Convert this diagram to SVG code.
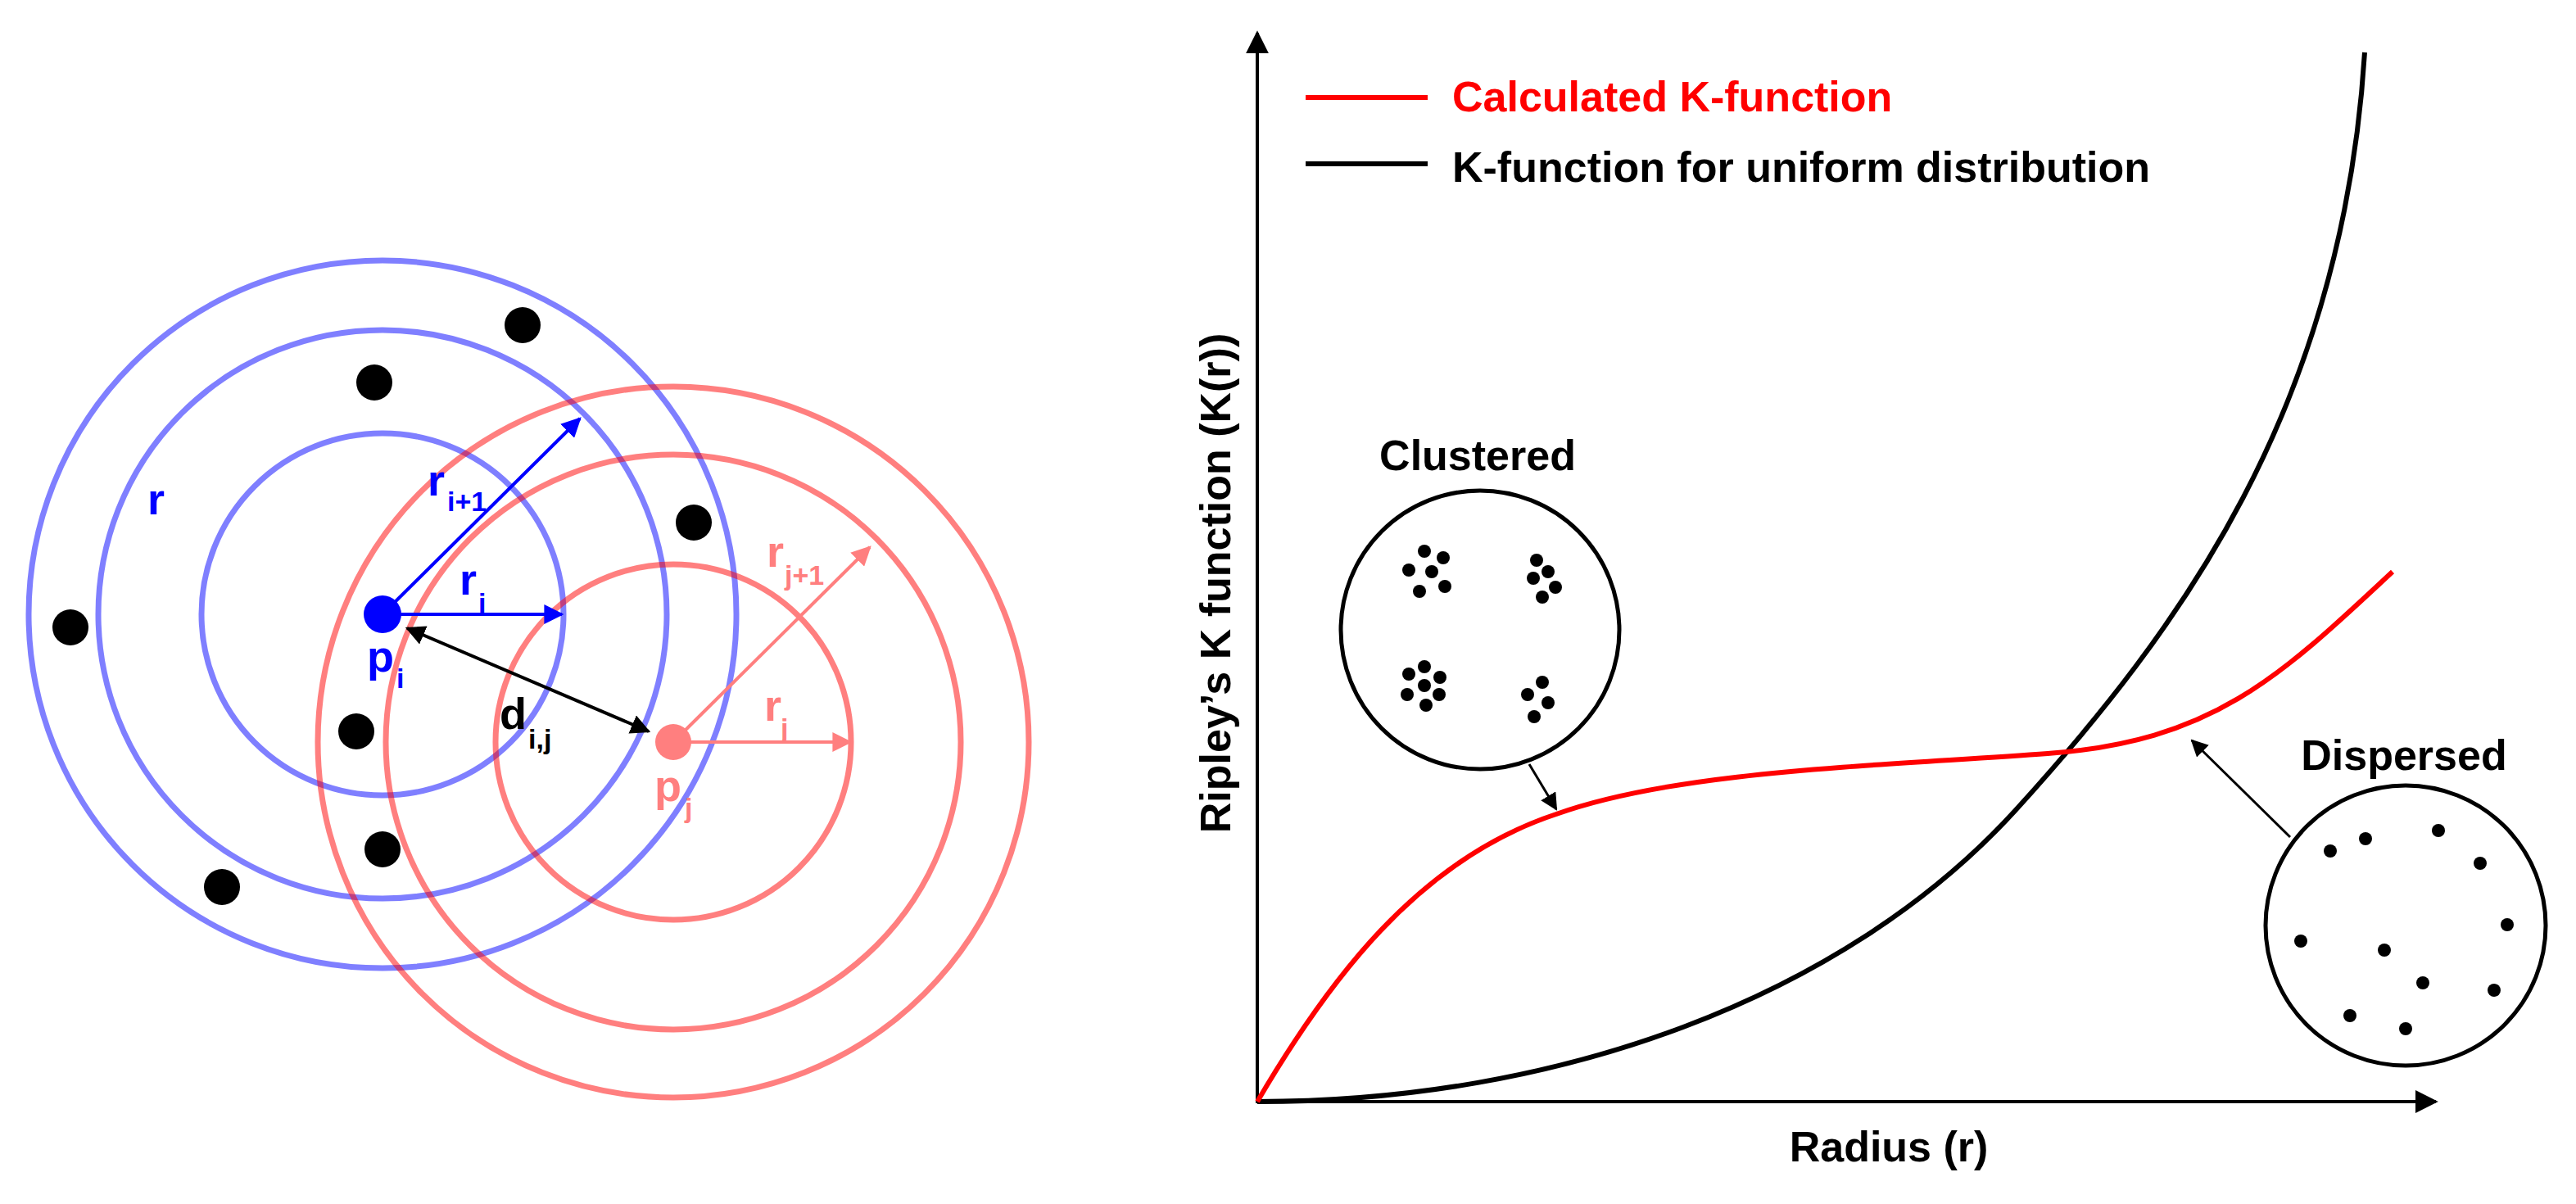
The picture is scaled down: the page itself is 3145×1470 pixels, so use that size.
<svg xmlns="http://www.w3.org/2000/svg" width="3145" height="1470" viewBox="0 0 3145 1470">
<style>
text{font-family:"Liberation Sans",Arial,sans-serif;font-weight:bold}
.bc{fill:none;stroke:#0000ff;stroke-opacity:0.5;stroke-width:7}
.rc{fill:none;stroke:#ff0000;stroke-opacity:0.5;stroke-width:7}
.dot{fill:#000}
.lb{font-size:54px}
.sb{font-size:34px}
.t{font-size:52px}
</style>
<defs>
<marker id="ab" viewBox="0 0 10 10" refX="9" refY="5" markerWidth="6" markerHeight="6" orient="auto"><path d="M0,0L10,5L0,10z" fill="#0000ff"/></marker>
<marker id="ar" viewBox="0 0 10 10" refX="9" refY="5" markerWidth="6" markerHeight="6" orient="auto"><path d="M0,0L10,5L0,10z" fill="#ff7f7f"/></marker>
<marker id="ak" viewBox="0 0 10 10" refX="9" refY="5" markerWidth="6" markerHeight="6" orient="auto-start-reverse"><path d="M0,0L10,5L0,10z" fill="#000"/></marker>
<marker id="ak2" viewBox="0 0 10 10" refX="9" refY="5" markerWidth="7" markerHeight="7" orient="auto"><path d="M0,0L10,5L0,10z" fill="#000"/></marker>
</defs>
<rect width="3145" height="1470" fill="#fff"/>
<g id="blue-circles">
<circle class="bc" cx="467" cy="750" r="221"/>
<circle class="bc" cx="467" cy="750" r="347"/>
<circle class="bc" cx="467" cy="750" r="432"/>
</g>
<g id="red-circles">
<circle class="rc" cx="822" cy="906" r="217"/>
<circle class="rc" cx="822" cy="906" r="351"/>
<circle class="rc" cx="822" cy="906" r="434"/>
</g>
<g id="points">
<circle class="dot" cx="638" cy="397" r="22"/>
<circle class="dot" cx="457" cy="467" r="22"/>
<circle class="dot" cx="847" cy="638" r="22"/>
<circle class="dot" cx="86" cy="766" r="22"/>
<circle class="dot" cx="435" cy="893" r="22"/>
<circle class="dot" cx="467" cy="1037" r="22"/>
<circle class="dot" cx="271" cy="1083" r="22"/>
</g>
<g id="connectors">
<line x1="467" y1="750" x2="708" y2="511" stroke="#0000ff" stroke-width="4" marker-end="url(#ab)"/>
<line x1="467" y1="750" x2="686" y2="750" stroke="#0000ff" stroke-width="4" marker-end="url(#ab)"/>
<line x1="497" y1="767" x2="792" y2="893" stroke="#000" stroke-width="4" marker-start="url(#ak)" marker-end="url(#ak)"/>
<line x1="822" y1="906" x2="1062" y2="668" stroke="#ff7f7f" stroke-width="4" marker-end="url(#ar)"/>
<line x1="822" y1="906" x2="1038" y2="906" stroke="#ff7f7f" stroke-width="4" marker-end="url(#ar)"/>
<line x1="1867" y1="933" x2="1900" y2="988" stroke="#000" stroke-width="3" marker-end="url(#ak2)"/>
<line x1="2796" y1="1022" x2="2676" y2="904" stroke="#000" stroke-width="3" marker-end="url(#ak2)"/>
</g>
<g id="pi"><circle cx="467" cy="750" r="23" fill="#0000ff"/></g>
<g id="pj"><circle cx="822" cy="906" r="22" fill="#ff7f7f"/></g>
<g id="labels-left">
<text class="lb" x="180" y="628" fill="#0000ff">r</text>
<text class="lb" x="522" y="605" fill="#0000ff">r</text><text class="sb" x="546" y="624" fill="#0000ff">i+1</text>
<text class="lb" x="561" y="726" fill="#0000ff">r</text><text class="sb" x="584" y="748" fill="#0000ff">i</text>
<text class="lb" x="448" y="820" fill="#0000ff">p</text><text class="sb" x="484" y="840" fill="#0000ff">i</text>
<text class="lb" x="610" y="890" fill="#000">d</text><text class="sb" x="645" y="914" fill="#000">i,j</text>
<text class="lb" x="936" y="692" fill="#ff7f7f">r</text><text class="sb" x="958" y="714" fill="#ff7f7f">j+1</text>
<text class="lb" x="933" y="880" fill="#ff7f7f">r</text><text class="sb" x="953" y="901" fill="#ff7f7f">j</text>
<text class="lb" x="799" y="978" fill="#ff7f7f">p</text><text class="sb" x="836" y="998" fill="#ff7f7f">j</text>
</g>
<g id="axes">
<line x1="1535" y1="1345" x2="1535" y2="40" stroke="#000" stroke-width="4" marker-end="url(#ak2)"/>
<line x1="1533" y1="1345" x2="2974" y2="1345" stroke="#000" stroke-width="4" marker-end="url(#ak2)"/>
<text class="t" x="2306" y="1418" text-anchor="middle">Radius (r)</text>
<text class="t" transform="translate(1502,712) rotate(-90)" text-anchor="middle">Ripley’s K function (K(r))</text>
</g>
<g id="legend">
<line x1="1594" y1="119" x2="1743" y2="119" stroke="#ff0000" stroke-width="6"/>
<text class="t" x="1773" y="136" fill="#ff0000">Calculated K-function</text>
<line x1="1594" y1="200" x2="1743" y2="200" stroke="#000" stroke-width="6"/>
<text class="t" x="1773" y="222">K-function for uniform distribution</text>
</g>
<g id="curves">
<path d="M1535,1345 C1900,1345 2250,1220 2460,990 C2660,770 2860,500 2887,64" fill="none" stroke="#000" stroke-width="6"/>
<path d="M1535,1345 C1620,1200 1730,1050 1900,994 C2050,940 2300,935 2500,920 C2700,905 2780,830 2921,698" fill="none" stroke="#ff0000" stroke-width="6"/>
</g>
<g id="clustered">
<text class="t" x="1804" y="574" text-anchor="middle">Clustered</text>
<circle cx="1807" cy="769" r="170" fill="none" stroke="#000" stroke-width="5"/>
<g class="dot">
<circle cx="1739" cy="673" r="8"/><circle cx="1762" cy="681" r="8"/><circle cx="1720" cy="696" r="8"/><circle cx="1748" cy="698" r="8"/><circle cx="1733" cy="722" r="8"/><circle cx="1764" cy="716" r="8"/>
<circle cx="1876" cy="684" r="8"/><circle cx="1890" cy="698" r="8"/><circle cx="1872" cy="706" r="8"/><circle cx="1899" cy="717" r="8"/><circle cx="1883" cy="729" r="8"/>
<circle cx="1739" cy="814" r="8"/><circle cx="1720" cy="823" r="8"/><circle cx="1758" cy="827" r="8"/><circle cx="1739" cy="837" r="8"/><circle cx="1718" cy="848" r="8"/><circle cx="1757" cy="848" r="8"/><circle cx="1741" cy="861" r="8"/>
<circle cx="1883" cy="833" r="8"/><circle cx="1865" cy="848" r="8"/><circle cx="1890" cy="858" r="8"/><circle cx="1873" cy="875" r="8"/>
</g>
</g>
<g id="dispersed">
<text class="t" x="2935" y="940" text-anchor="middle">Dispersed</text>
<circle cx="2937" cy="1130" r="171" fill="none" stroke="#000" stroke-width="5"/>
<g class="dot">
<circle cx="2845" cy="1039" r="8"/><circle cx="2888" cy="1024" r="8"/><circle cx="2977" cy="1014" r="8"/><circle cx="3028" cy="1054" r="8"/><circle cx="3061" cy="1129" r="8"/><circle cx="2809" cy="1149" r="8"/><circle cx="2911" cy="1160" r="8"/><circle cx="2958" cy="1200" r="8"/><circle cx="3045" cy="1209" r="8"/><circle cx="2869" cy="1240" r="8"/><circle cx="2937" cy="1256" r="8"/>
</g>
</g>
</svg>
